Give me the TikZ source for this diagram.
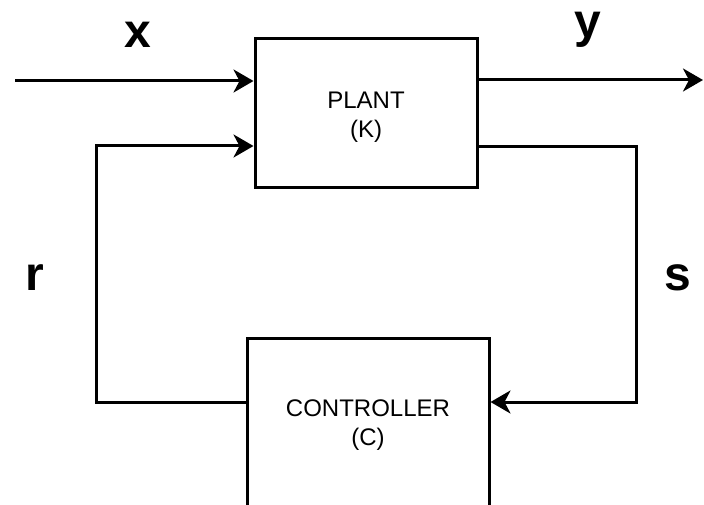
\documentclass[tikz,border=0pt]{standalone}
\usepackage{fontspec}
\setmainfont{Liberation Sans}
\usetikzlibrary{arrows.meta}
\begin{document}
\begin{tikzpicture}[x=1pt,y=-1pt,
  line width=3pt,
  blockbox/.style={draw, line width=3pt, inner sep=0pt},
  boxtext/.style={align=center, inner sep=0pt, font=\fontsize{24}{29}\selectfont},
  arr/.style={-{Stealth[length=20pt,width=23pt,inset=6pt]}, line width=3pt},
  siglbl/.style={font=\fontsize{48}{48}\selectfont\bfseries, anchor=base, inner sep=0pt}]
\useasboundingbox (0,0) rectangle (704,505);
\clip (0,0) rectangle (704,505);
\fill[white] (0,0) rectangle (704,505);

\node[blockbox, minimum width=222pt, minimum height=149pt] (plant) at (366,113.5) {};
\node[boxtext] (plantlbl) at ([yshift=-4pt]plant.center) {PLANT\\(K)};
\node[blockbox, minimum width=242pt, minimum height=174pt] (ctrl) at (368,425) {};
\node[boxtext] (ctrllbl) at (ctrl.center) {CONTROLLER\\(C)};

\coordinate (xin) at (15,81);
\coordinate (yout) at (703,80);
\coordinate (tl) at (96,146);
\coordinate (bl) at (96,402);
\coordinate (tr) at (636,147);
\coordinate (br) at (636,402);

\draw[arr] (xin) -- (plant.west |- xin);
\draw[arr] (plant.east |- yout) -- (yout);
\draw[arr] (ctrl.west |- bl) -- (bl) -- (tl) -- (plant.west |- tl);
\draw[arr] (plant.east |- tr) -- (tr) -- (br) -- (ctrl.east |- br);

\node[siglbl] (lx) at (138,48) {x};
\node[siglbl] (ly) at (588,38) {y};
\node[siglbl] (lr) at (35,290) {r};
\node[siglbl] (ls) at (678,290) {s};
\end{tikzpicture}
\end{document}
